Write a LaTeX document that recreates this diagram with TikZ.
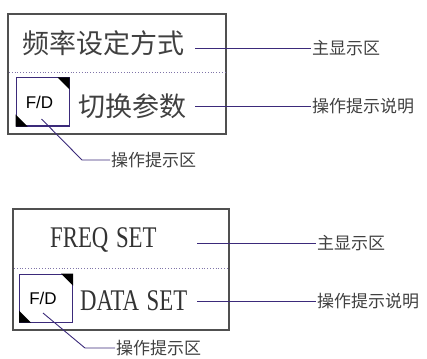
\documentclass[tikz,border=0pt]{standalone}
\usepackage{fontspec}
\setmainfont{Liberation Serif}
\newfontfamily\cjk{Noto Sans CJK SC}
\newfontfamily\keyfont{Liberation Sans}
\definecolor{leadline}{HTML}{3B2A7A}
\definecolor{panelgray}{HTML}{505050}

\begin{document}
\begin{tikzpicture}[x=1pt, y=-1pt,
    panel/.style={draw=panelgray, line width=1.4pt},
    lead/.style={draw=leadline, line width=0.9pt},
    sep/.style={draw=leadline!65, dotted, line width=0.8pt},
    keybox/.style={draw=leadline, line width=1pt, minimum width=53pt, minimum height=48pt, inner sep=0pt},
    big/.style={font=\cjk\fontsize{27}{27}\selectfont, inner sep=0pt, anchor=west, text=black!75},
    eng/.style={font=\fontsize{30}{30}\selectfont, inner sep=0pt, anchor=west, xscale=0.76, text=black!80},
    note/.style={font=\cjk\fontsize{17}{17}\selectfont, inner sep=1pt, anchor=west, text=black!75},
    fdtext/.style={font=\keyfont\fontsize{17}{17}\selectfont, inner sep=0pt}]
\useasboundingbox (0,0) rectangle (427,358);

% Chinese panel
\begin{scope}
    \draw[panel] (8,14) rectangle (226,134);
    \draw[sep] (9,72) -- (225,72);
    \node[big] (freq) at (22,43) {频率设定方式};
    \node[big] (data) at (78,106) {切换参数};
    \node[note] (mainlbl) at (311,48) {主显示区};
    \node[note] (hintlbl) at (311,106) {操作提示说明};
    \coordinate (mainend) at (195,48);
    \coordinate (hintend) at (195,106);
    \draw[lead] (mainend) -- (mainlbl.west);
    \draw[lead] (hintend) -- (hintlbl.west);
    % F/D key with corner marks
    \node[keybox] (key) at (42.5,102) {};
    \node[fdtext] (fd) at ([xshift=-3pt]key.center) {F/D};
    \fill[black] (key.north east) -- ++(-12,0) -- ++(12,12) -- cycle;
    \fill[black] (key.south west) -- ++(12,0) -- ++(-12,-12) -- cycle;
    \node[note] (keylbl) at (110,160) {操作提示区};
    \coordinate (keypin) at ([shift={(-1,17)}]key.center);
    \coordinate (bend) at (82,160);
    \draw[lead] (keypin) -- (bend) -- (keylbl.west);
\end{scope}

% English panel
\begin{scope}[shift={(5,195)}]
    \draw[panel] (8,14) rectangle (224,135);
    \draw[sep] (9,73) -- (223,73);
    \node[eng] (freq) at (45,45) {FREQ\,\,SET};
    \node[eng] (data) at (75,106) {DATA\,\,SET};
    \node[note] (mainlbl) at (311,48) {主显示区};
    \node[note] (hintlbl) at (311,106) {操作提示说明};
    \coordinate (mainend) at (192,48);
    \coordinate (hintend) at (192,106);
    \draw[lead] (mainend) -- (mainlbl.west);
    \draw[lead] (hintend) -- (hintlbl.west);
    % F/D key with corner marks
    \node[keybox] (key) at (41,103) {};
    \node[fdtext] (fd) at ([xshift=-3pt]key.center) {F/D};
    \fill[black] (key.north east) -- ++(-12,0) -- ++(12,12) -- cycle;
    \fill[black] (key.south west) -- ++(12,0) -- ++(-12,-12) -- cycle;
    \node[note] (keylbl) at (110,153) {操作提示区};
    \coordinate (keypin) at ([shift={(-3,15)}]key.center);
    \coordinate (bend) at (80,153);
    \draw[lead] (keypin) -- (bend) -- (keylbl.west);
\end{scope}
\end{tikzpicture}
\end{document}
